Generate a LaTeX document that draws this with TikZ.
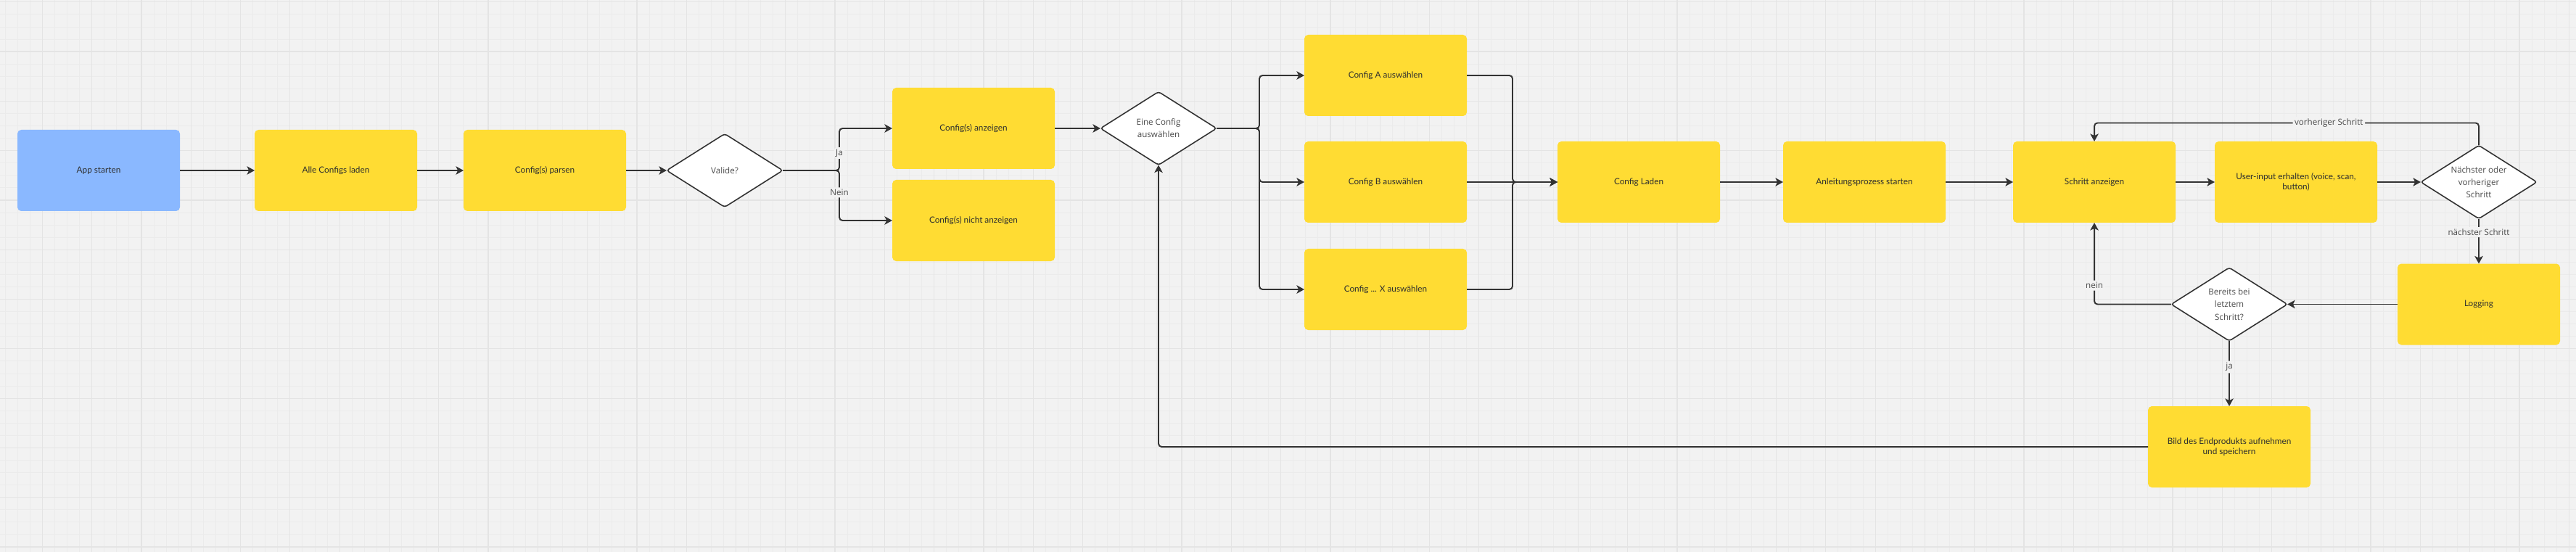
\documentclass[tikz,border=0pt]{standalone}
\usepackage{fontspec}
\setmainfont{Open Sans}
\newfontfamily\boxfont{Lato}
\usetikzlibrary{shapes.geometric,arrows.meta,positioning}

\definecolor{bggray}{HTML}{F2F2F2}
\definecolor{gridminor}{HTML}{EBEBEB}
\definecolor{gridmajor}{HTML}{E4E4E4}
\definecolor{stickyyellow}{HTML}{FFDC33}
\definecolor{stickyblue}{HTML}{8AB8FF}
\definecolor{linegray}{HTML}{333333}
\definecolor{textgray}{HTML}{2E2E2E}
\definecolor{labelgray}{HTML}{4A4A4A}

\begin{document}
\begin{tikzpicture}[
    node distance=1.2cm,
    card/.style={rounded corners=3pt, fill=stickyyellow, minimum width=4.48cm, minimum height=2.24cm, inner sep=2pt, outer sep=0pt, align=center, text=textgray, font=\boxfont\fontsize{6.7}{8.3}\selectfont},
    startcard/.style={card, fill=stickyblue},
    decision/.style={diamond, draw=linegray, line width=0.9pt, fill=white, rounded corners=2pt, minimum width=3.2cm, minimum height=2.02cm, inner sep=0pt, outer sep=0pt, aspect=1.58, align=center, text=labelgray, font=\fontsize{6.6}{9.8}\selectfont},
    arrow/.style={-{Stealth[length=6pt, width=6.5pt, inset=1.5pt]}, line width=1.1pt, draw=linegray, rounded corners=2.5pt},
    lbl/.style={fill=bggray, inner sep=1.5pt, text=labelgray, font=\fontsize{6.6}{8}\selectfont}
]

% Board background
\useasboundingbox (0,0) rectangle (71.02,-15.22);
\fill[bggray] (0,0) rectangle (71.02,-15.22);
\begin{scope}
\clip (0,0) rectangle (71.02,-15.22);
\draw[gridminor, line width=0.5pt, shift={(1.168,-0.056)}] (-2,2) grid[step=0.34145] (71,-16);
\draw[gridmajor, line width=0.7pt, shift={(1.168,-0.056)}] (-2,2) grid[step=1.3658] (71,-16);
\end{scope}

% Start and loading
\node[startcard] (app) at (2.72,-4.70) {App starten};
\node[card, right=2.06cm of app] (alle) {Alle Configs laden};
\node[card, right=1.28cm of alle] (parsen) {Config(s) parsen};
\node[decision, right=1.12cm of parsen] (valide) {Valide?};

% Validation result
\node[card, right=3.02cm of valide, yshift=1.16cm] (anzeigen) {Config(s) anzeigen};
\node[card, below=0.3cm of anzeigen] (nichtanzeigen) {Config(s) nicht anzeigen};

% Config selection
\node[decision, right=1.26cm of anzeigen] (auswahl) {Eine Config\\auswählen};
\node[card, right=2.42cm of auswahl, yshift=1.46cm] (cfga) {Config A auswählen};
\node[card, below=0.7cm of cfga] (cfgb) {Config B auswählen};
\node[card, below=0.72cm of cfgb] (cfgx) {Config ... X auswählen};

% Instruction process
\node[card, right=2.5cm of cfgb] (laden) {Config Laden};
\node[card, right=1.74cm of laden] (anleitung) {Anleitungsprozess starten};
\node[card, right=1.86cm of anleitung] (schritt) {Schritt anzeigen};
\node[card, right=1.08cm of schritt] (input) {User-input erhalten (voice, scan,\\button)};
\node[decision, right=1.2cm of input] (richtung) {Nächster oder\\vorheriger\\Schritt};
\node[card, below=1.24cm of richtung] (logging) {Logging};
\node[decision, left=3.04cm of logging] (letzter) {Bereits bei\\letztem\\Schritt?};
\node[card, below=1.8cm of letzter] (bild) {Bild des Endprodukts aufnehmen\\und speichern};

% Branch points
\coordinate[right=1.56cm of valide.east] (validesplit);
\coordinate[right=1.18cm of auswahl.east] (auswahlsplit);
\coordinate[right=1.26cm of cfgb.east] (merge);

% Arrows
\draw[arrow] (app) -- (alle);
\draw[arrow] (alle) -- (parsen);
\draw[arrow] (parsen) -- (valide);
\draw[arrow] (valide.east) -- (validesplit) |- node[lbl, pos=0.207] {Ja} (anzeigen.west);
\draw[arrow] (valide.east) -- (validesplit) |- node[lbl, pos=0.22] {Nein} (nichtanzeigen.west);
\draw[arrow] (anzeigen) -- (auswahl);
\draw[arrow] (auswahl.east) -- (auswahlsplit) |- (cfga.west);
\draw[arrow] (auswahl.east) -- (auswahlsplit) |- (cfgb.west);
\draw[arrow] (auswahl.east) -- (auswahlsplit) |- (cfgx.west);
\draw[arrow] (cfga.east) -| (merge) -- (laden.west);
\draw[arrow] (cfgx.east) -| (merge) -- (laden.west);
\draw[arrow] (cfgb) -- (laden);
\draw[arrow] (laden) -- (anleitung);
\draw[arrow] (anleitung) -- (schritt);
\draw[arrow] (schritt) -- (input);
\draw[arrow] (input) -- (richtung);
\draw[arrow] (richtung.north) -- ++(0,0.62) -| node[lbl, pos=0.195] {vorheriger Schritt} (schritt.north);
\draw[arrow] (richtung) -- node[lbl, pos=0.3] {nächster Schritt} (logging);
\draw[arrow] (logging) -- (letzter);
\draw[arrow] (letzter.west) -| node[lbl, pos=0.615] {nein} (schritt.south);
\draw[arrow] (letzter) -- node[lbl, pos=0.4] {ja} (bild);
\draw[arrow] (bild.west) -| (auswahl.south);

\end{tikzpicture}
\end{document}
